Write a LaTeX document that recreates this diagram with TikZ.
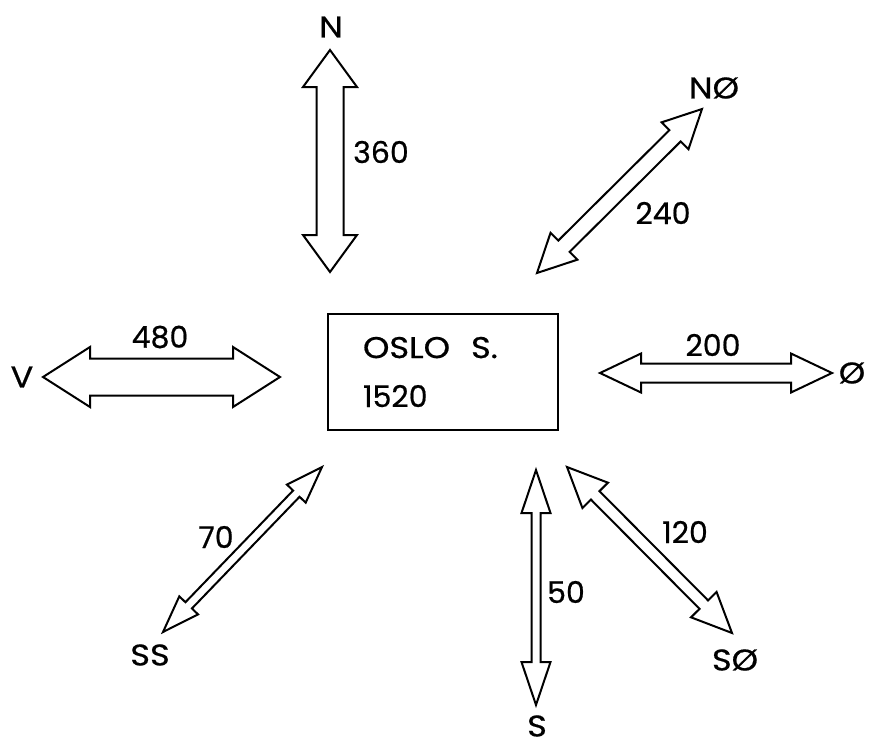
\documentclass[tikz,border=0pt]{standalone}
\usepackage{fontspec}
\setmainfont[FakeBold=0.6]{Poppins}
\newfontfamily\letfont[FakeBold=0.6,FakeStretch=1.12]{Poppins}
\usetikzlibrary{calc}
\tikzset{
  dbl/.style={draw=black, line width=2pt, line join=miter, fill=white},
  lbl/.style={font=\fontsize{30}{36}\selectfont, inner sep=0pt},
  let/.style={font=\fontsize{30}{36}\selectfont\letfont, inner sep=0pt},
  station/.style={draw=black, line width=2.1pt, minimum width=230pt, minimum height=116pt,
    inner xsep=35pt, inner ysep=0pt, text width=160pt, align=left,
    font=\fontsize{30}{49}\selectfont},
}
\newcommand\hollowarrow[5]{%
  \draw[dbl] (#1)
    -- ($(#1)!#5!(#2)!#4!90:(#2)$)
    -- ($(#1)!#5!(#2)!#3!90:(#2)$)
    -- ($(#2)!#5!(#1)!#3!-90:(#1)$)
    -- ($(#2)!#5!(#1)!#4!-90:(#1)$)
    -- (#2)
    -- ($(#2)!#5!(#1)!#4!90:(#1)$)
    -- ($(#2)!#5!(#1)!#3!90:(#1)$)
    -- ($(#1)!#5!(#2)!#3!-90:(#2)$)
    -- ($(#1)!#5!(#2)!#4!-90:(#2)$)
    -- cycle;}
\begin{document}
\begin{tikzpicture}[x=1pt,y=-1pt]
\useasboundingbox (0,0) rectangle (875,739);
% station box
\node[station] (oslo) at (443,372) {{\letfont OSLO}\hspace{0.7em}{\letfont S.}\\1520};
% arrow end points
\coordinate (nA) at (330,50);   \coordinate (nB) at (330,272);
\coordinate (neA) at (702,109); \coordinate (neB) at (537,273);
\coordinate (vA) at (43,377);   \coordinate (vB) at (280,377);
\coordinate (eA) at (600,373);  \coordinate (eB) at (832,373);
\coordinate (ssA) at (322,467); \coordinate (ssB) at (163,632);
\coordinate (sA) at (536,470);  \coordinate (sB) at (536,705);
\coordinate (seA) at (567,467); \coordinate (seB) at (732,633);
% arrows
\hollowarrow{nA}{nB}{13.5pt}{27pt}{37pt}
\hollowarrow{neA}{neB}{8pt}{19pt}{38pt}
\hollowarrow{vA}{vB}{18.5pt}{30pt}{47pt}
\hollowarrow{eA}{eB}{9.5pt}{19.5pt}{41pt}
\hollowarrow{ssA}{ssB}{4.5pt}{13pt}{37pt}
\hollowarrow{sA}{sB}{4.5pt}{14.5pt}{43pt}
\hollowarrow{seA}{seB}{6pt}{18pt}{40pt}
% labels
\node[let] (ln) at (331,27) {N};
\node[let] (lne) at (714,88) {NØ};
\node[let] (lv) at (22,377) {V};
\node[let] (le) at (852,373) {Ø};
\node[let] (lss) at (150,655) {SS};
\node[let] (ls) at (537,726) {S};
\node[let] (lse) at (735,660) {SØ};
\node[lbl] (n360) at (381,152) {360};
\node[lbl] (n240) at (663,213) {240};
\node[lbl] (n480) at (160,337) {480};
\node[lbl] (n200) at (713,345) {200};
\node[lbl] (n70) at (216,537) {70};
\node[lbl] (n50) at (566,592) {50};
\node[lbl] (n120) at (685,532) {120};
\end{tikzpicture}
\end{document}
